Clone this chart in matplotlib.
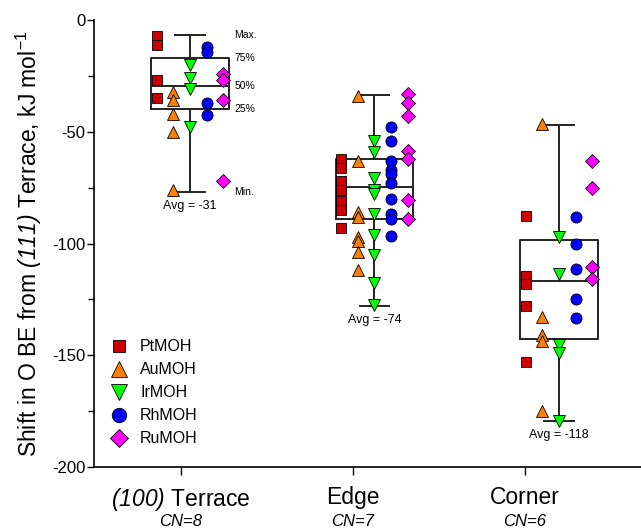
import matplotlib
matplotlib.use("Agg")
import matplotlib.pyplot as plt


# data (kJ/mol)

groups = ["$\\mathsf{(100)}$ Terrace", "Edge", "Corner"]
cn_labels = ["CN=8", "CN=7", "CN=6"]

pt = [[-7, -11, -27, -35],
      [-62, -66, -72, -76, -81, -85, -93],
      [-87.5, -114.5, -118, -128, -153]]
au = [[-32, -36, -42, -50, -76],
      [-34, -63, -86, -88, -97, -99, -104, -112],
      [-46.5, -133, -141, -143.5, -175]]
ir = [[-20, -26, -31, -48],
      [-54, -59, -70.5, -76, -78, -87, -96, -105, -117.5, -127.5],
      [-97, -113.5, -145.5, -149, -179.5]]
rh = [[-12, -14.5, -37, -42.5],
      [-48, -54, -63, -67, -69, -73, -80, -87, -89, -96.5],
      [-88, -100, -111.5, -125, -133.5]]
ru = [[-24, -27, -36, -72],
      [-33, -37, -43, -58.5, -62, -80.5, -89],
      [-63, -75, -110.5, -116]]

box_hi = [-6.9, -33.4, -47]
box_q3 = [-16.9, -62.3, -98.4]
box_med = [-29.4, -74.6, -116.8]
box_q1 = [-39.8, -89.2, -142.7]
box_lo = [-76.8, -127.8, -179.3]
avg = [-31, -74, -118]


# style

plt.rcParams['font.family'] = ['Liberation Sans', 'DejaVu Sans']
plt.rcParams['axes.unicode_minus'] = False
plt.rcParams['mathtext.fontset'] = 'custom'
plt.rcParams['mathtext.rm'] = 'Liberation Sans'
plt.rcParams['mathtext.it'] = 'Liberation Sans:italic'
# \mathsf used for italic digits (mathtext \it keeps digits upright)
plt.rcParams['mathtext.sf'] = 'Liberation Sans:italic'

series = [
    ("PtMOH", pt, "s", "#cc0000", -0.18),
    ("AuMOH", au, "^", "#ff8000", -0.09),
    ("IrMOH", ir, "v", "#00ff00", 0.0),
    ("RhMOH", rh, "o", "#0000ff", 0.09),
    ("RuMOH", ru, "D", "#ff00ff", 0.18),
]
msize = {"s": 7, "^": 8.5, "v": 8.5, "o": 8, "D": 7}

pos = [0, 1, 2]
tick_pos = [-0.049, 0.883, 1.816]
box_w = 0.42


fig = plt.figure(figsize=(6.41, 5.31), dpi=100)
ax = fig.add_axes([0.1466, 0.1205, 0.8534, 0.8418])

# boxes
stats = []
for i in range(3):
    stats.append(dict(med=box_med[i], q1=box_q1[i], q3=box_q3[i],
                      whislo=box_lo[i], whishi=box_hi[i], fliers=[]))
lw = 1.4
ax.bxp(stats, positions=pos, widths=box_w, capwidths=0.16, showfliers=False,
       boxprops=dict(color="#222222", linewidth=lw),
       medianprops=dict(color="#222222", linewidth=lw),
       whiskerprops=dict(color="#222222", linewidth=lw),
       capprops=dict(color="#222222", linewidth=lw),
       zorder=1, manage_ticks=False)

# points
for name, vals, mk, col, off in series:
    for i in range(3):
        ax.plot([pos[i] + off] * len(vals[i]), vals[i], linestyle="none",
                marker=mk, markersize=msize[mk], markerfacecolor=col,
                markeredgecolor="black", markeredgewidth=0.6, zorder=3,
                label=name if i == 0 else None)

# quartile labels on the terrace box
qlabels = ["Max.", "75%", "50%", "25%", "Min."]
qvals = [box_hi[0], box_q3[0], box_med[0], box_q1[0], box_lo[0]]
for lab, v in zip(qlabels, qvals):
    ax.annotate(lab, xy=(pos[0] + box_w / 2, v), xytext=(4, 0),
                textcoords="offset points", va="center", ha="left", fontsize=7.5)

# averages
for i in range(3):
    ax.annotate("Avg = %d" % avg[i], xy=(pos[i], box_lo[i]), xytext=(0, -10.5),
                textcoords="offset points", va="center", ha="center", fontsize=9)

ax.set_ylim(-200, 0)
ax.set_xlim(-0.52, 2.445)
ax.set_yticks(range(-200, 1, 50))
ax.set_yticks(range(-175, 0, 50), minor=True)
ax.tick_params(axis="y", which="major", labelsize=12, length=5, width=1, pad=1)
ax.tick_params(axis="y", which="minor", length=4, width=1)

ax.xaxis.remove_overlapping_locs = False
ax.set_xticks(tick_pos)
ax.set_xticklabels(groups, fontsize=16.5)
ax.set_xticks(tick_pos, minor=True)
ax.set_xticklabels(cn_labels, minor=True, fontsize=12, fontstyle="italic")
ax.tick_params(axis="x", which="major", length=5.5, width=1, pad=8)
ax.tick_params(axis="x", which="minor", length=0, pad=34)

ax.spines["top"].set_visible(False)
ax.spines["right"].set_visible(False)
ax.spines["left"].set_linewidth(1.2)
ax.spines["bottom"].set_linewidth(1.2)

ax.set_ylabel("Shift in O BE from $\\mathsf{(111)}$ Terrace, kJ mol$^{-1}$",
              fontsize=16.5, labelpad=6)

ax.legend(loc="upper left", bbox_to_anchor=(0.02, 0.30), frameon=False,
          fontsize=11.5, markerscale=1.3, handlelength=1.0, handletextpad=0.8,
          labelspacing=0.5, borderaxespad=0)

fig.savefig("out.png", dpi=100)
